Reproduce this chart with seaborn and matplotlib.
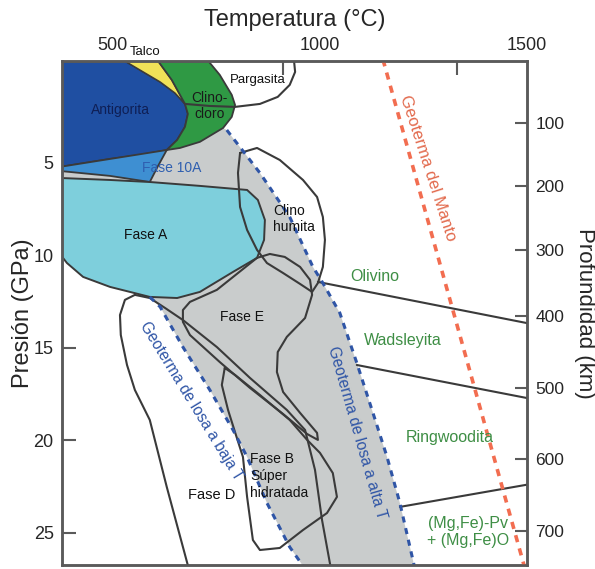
import matplotlib
matplotlib.use('Agg')
import matplotlib.pyplot as plt
import seaborn as sns

# phase fields: temperature (C) and pressure (GPa)
antigorita_t = [370, 522, 565, 614, 650, 674, 681, 674, 655, 630, 565, 493, 432, 370]
antigorita_p = [-0.6, -0.6, -0.03, 0.62, 1.22, 1.81, 2.35, 3.05, 3.76, 4.30, 4.57, 4.78, 5.00, 5.22]

talco_t = [522, 606, 642, 674, 650, 614, 565]
talco_p = [-0.6, -0.6, 0.51, 1.81, 1.22, 0.62, -0.03]

clinocloro_t = [606, 727, 758, 787, 795, 787, 766, 710, 662, 630, 655, 674, 681, 674, 642]
clinocloro_p = [-0.6, -0.6, 0.24, 1.32, 1.87, 2.51, 3.11, 3.86, 4.19, 4.30, 3.76, 3.05, 2.35, 1.81, 0.51]

pargasita_t = [674, 734, 795, 855, 898, 927, 940, 937]
pargasita_p = [1.81, 1.92, 1.97, 1.81, 1.43, 0.78, 0.08, -0.6]

fase10a_t = [370, 630, 609, 589, 493, 370]
fase10a_p = [5.22, 4.30, 5.16, 6.03, 5.70, 5.43]

faseA_t = [370, 493, 589, 710, 824, 850, 867, 865, 848, 790, 710, 655, 589, 493, 428, 389, 370]
faseA_p = [5.81, 5.92, 6.03, 6.24, 6.46, 7.00, 8.08, 9.16, 10.13, 10.89, 11.97, 12.30, 12.24, 11.70, 11.16, 10.41, 9.86]

clinohumita_t = [807, 848, 903, 959, 993, 1007, 1012, 1007, 995, 981, 952, 911, 872, 848, 824, 807, 802, 807]
clinohumita_p = [4.46, 4.19, 4.84, 5.92, 6.84, 7.92, 9.16, 10.62, 11.49, 11.97, 11.54, 10.95, 10.41, 9.70, 8.62, 7.38, 5.54, 4.46]

faseE_t = [848, 879, 915, 952, 976, 981, 964, 920, 898, 896, 911, 952, 993, 995, 969, 911, 831, 758, 686, 669, 669, 686, 751, 848]
faseE_p = [10.13, 9.92, 10.08, 10.62, 11.32, 12.13, 13.38, 14.40, 15.22, 16.30, 17.38, 18.51, 19.59, 19.97, 19.65, 18.57, 17.16, 15.76, 14.30, 13.59, 12.95, 12.51, 11.86, 10.13]

faseD_t = [684, 630, 589, 553, 534, 519, 517, 529, 553, 589, 626, 669, 751, 831, 920, 964, 988, 1005, 1027]
faseD_p = [27.0, 22.51, 18.89, 17.27, 15.92, 14.30, 13.22, 12.40, 12.13, 12.30, 12.84, 13.49, 14.95, 16.62, 18.35, 19.43, 21.59, 24.30, 27.0]

faseB_t = [770, 763, 778, 797, 814, 824, 838, 855, 903, 959, 1017, 1041, 1031, 1000, 969, 927, 855, 795, 770]
faseB_p = [16.08, 17.00, 18.35, 19.70, 20.89, 23.05, 25.38, 25.92, 25.81, 24.84, 23.92, 23.05, 21.76, 20.67, 19.97, 18.89, 17.54, 16.46, 16.08]

# slab and mantle geotherms
alta_t = [775, 855, 927, 983, 1007, 1048, 1089, 1128, 1162, 1193, 1230]
alta_p = [3.22, 5.54, 7.92, 10.62, 11.49, 13.11, 15.81, 18.51, 20.89, 23.38, 27.0]
baja_t = [589, 614, 669, 734, 790, 824, 872, 927, 966]
baja_p = [12.24, 12.78, 14.95, 17.27, 19.43, 20.89, 23.38, 25.76, 27.0]
manto_t = [1152, 1496]
manto_p = [-0.6, 27.0]

# olivine polymorph transitions
ol_wad_t, ol_wad_p = [995, 1510], [11.43, 13.70]
wad_rw_t, wad_rw_p = [1089, 1510], [15.92, 17.75]
rw_pv_t, rw_pv_p = [1193, 1510], [23.59, 22.35]

temp_ticks = [500, 1000, 1500]
temp_minor = [500, 572, 910, 1330]
pres_ticks = [5, 10, 15, 20, 25]
depth_labels = [100, 200, 300, 400, 500, 600, 700]
depth_at_gpa = [2.84, 6.24, 9.70, 13.27, 17.16, 21.0, 24.89]

sns.set_style('white')
plt.rcParams['font.family'] = ['Liberation Sans', 'DejaVu Sans']

fig = plt.figure(figsize=(5.95, 5.69), dpi=100)
ax = fig.add_axes([62 / 595, 4 / 569, 465 / 595, 504 / 569])

edge = '#3a3a3a'
spine_c = '#5a5a5a'

# grey field between the two slab geotherms
grey_t = [370, 630, 710, 766] + alta_t + [966] + baja_t[::-1] + [493, 370]
grey_p = [5.43, 4.30, 3.86, 3.11] + alta_p + [27.0] + baja_p[::-1] + [11.70, 9.86]
ax.fill(grey_t, grey_p, color='#c9cccc', lw=0, zorder=1)

ax.fill(antigorita_t, antigorita_p, facecolor='#1f4fa2', edgecolor=edge, lw=1.3, zorder=2)
ax.fill(talco_t, talco_p, facecolor='#f1e258', edgecolor=edge, lw=1.0, zorder=2)
ax.fill(clinocloro_t, clinocloro_p, facecolor='#2f9944', edgecolor=edge, lw=1.3, zorder=2)
ax.fill(fase10a_t, fase10a_p, facecolor='#3e8fd2', edgecolor=edge, lw=1.3, zorder=2)
ax.fill(faseA_t, faseA_p, facecolor='#7ecfdc', edgecolor=edge, lw=1.4, zorder=2)

for xs, ys in [(pargasita_t, pargasita_p), (clinohumita_t, clinohumita_p),
               (faseE_t, faseE_p), (faseD_t, faseD_p), (faseB_t, faseB_p),
               (ol_wad_t, ol_wad_p), (wad_rw_t, wad_rw_p), (rw_pv_t, rw_pv_p)]:
    sns.lineplot(x=xs, y=ys, sort=False, estimator=None, color=edge, lw=1.5, ax=ax, zorder=3)

sns.lineplot(x=alta_t, y=alta_p, sort=False, estimator=None, color='#2f55a6', lw=2.2,
             linestyle=(0, (2.0, 1.9)), ax=ax, zorder=4)
sns.lineplot(x=baja_t, y=baja_p, sort=False, estimator=None, color='#2f55a6', lw=2.2,
             linestyle=(0, (2.0, 1.9)), ax=ax, zorder=4)
sns.lineplot(x=manto_t, y=manto_p, sort=False, estimator=None, color='#f26d50', lw=2.6,
             linestyle=(0, (2.0, 1.8)), ax=ax, zorder=4)

ax.set_xlim(377, 1500)
ax.set_ylim(26.73, -0.51)

txt = dict(ha='center', va='center', zorder=5)
ax.text(517, 2.14, 'Antigorita', fontsize=10, color='#0f1f55', **txt)
ax.text(577, -1.0, 'Talco', fontsize=9.5, color='#111111', **txt)
ax.text(734, 1.92, 'Clino-\ncloro', fontsize=10, color='#1a1a1a', linespacing=1.2, **txt)
ax.text(850, 0.51, 'Pargasita', fontsize=9.5, color='#111111', **txt)
ax.text(642, 5.27, 'Fase 10A', fontsize=10, color='#2f5fb0', **txt)
ax.text(580, 8.89, 'Fase A', fontsize=10, color='#111111', **txt)
ax.text(886, 8.03, 'Clino\nhumita', fontsize=10, color='#111111', ha='left', va='center',
        linespacing=1.25, zorder=5)
ax.text(812, 13.32, 'Fase E', fontsize=10, color='#111111', **txt)
ax.text(739, 22.95, 'Fase D', fontsize=10.5, color='#111111', **txt)
ax.text(831, 21.92, 'Fase B\nSúper\nhidratada', fontsize=10, color='#111111', ha='left',
        va='center', linespacing=1.3, zorder=5)

green = '#3e8e45'
ax.text(1133, 11.16, 'Olivino', fontsize=11.5, color=green, **txt)
ax.text(1200, 14.57, 'Wadsleyita', fontsize=11.5, color=green, **txt)
ax.text(1314, 19.86, 'Ringwoodita', fontsize=11.5, color=green, **txt)
ax.text(1357, 24.95, '(Mg,Fe)-Pv\n+ (Mg,Fe)O', fontsize=11.5, color=green,
        linespacing=1.2, **txt)

ax.text(688, 17.9, 'Geoterma de losa a baja T', fontsize=11.2, color='#2f55a6',
        rotation=-58.5, rotation_mode='anchor', **txt)
ax.text(1089, 19.59, 'Geoterma de losa a alta T', fontsize=11.2, color='#2f55a6',
        rotation=-74, rotation_mode='anchor', **txt)
ax.text(1261, 5.27, 'Geoterma del Manto', fontsize=12, color='#e2694c',
        rotation=-72, rotation_mode='anchor', **txt)

# axes
ax.xaxis.tick_top()
ax.xaxis.set_label_position('top')
ax.set_xticks(temp_ticks)
ax.set_xticks(temp_minor, minor=True)
ax.tick_params(axis='x', which='major', length=0, pad=5, labelsize=13)
ax.tick_params(axis='x', which='minor', direction='in', length=10, width=1.5, color=spine_c)
ax.set_xlabel('Temperatura (°C)', fontsize=17, labelpad=8)

ax.set_yticks(pres_ticks)
ax.tick_params(axis='y', direction='in', length=10, width=1.5, color=spine_c, pad=6, labelsize=13)
ax.set_ylabel('Presión (GPa)', fontsize=17, labelpad=0)

ax2 = ax.twinx()
ax2.set_ylim(ax.get_ylim())
ax2.set_yticks(depth_at_gpa)
ax2.set_yticklabels([str(d) for d in depth_labels])
ax2.tick_params(axis='y', direction='in', length=9, width=1.5, color=spine_c, pad=6, labelsize=12.5)
ax2.set_ylabel('Profundidad (km)', fontsize=16, rotation=270, labelpad=22)

for a in (ax, ax2):
    for s in a.spines.values():
        s.set_color(spine_c)
        s.set_linewidth(1.8)
        s.set_visible(True)

fig.savefig('out.png', dpi=100)
